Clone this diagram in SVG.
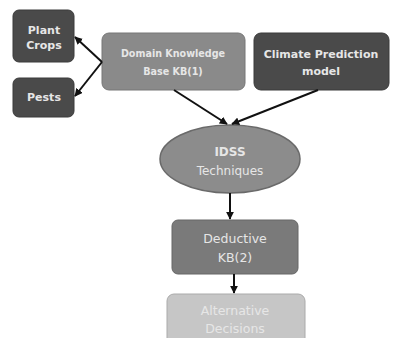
<svg xmlns="http://www.w3.org/2000/svg" width="393" height="338" viewBox="0 0 393 338">
<defs>
<style>
.t{font-family:"DejaVu Sans","Liberation Sans",sans-serif;text-anchor:middle;fill:#e6e6e6}
.b{font-weight:bold}
.c{stroke:#111;stroke-width:2;fill:none;marker-end:url(#ah)}
</style>
<marker id="ah" viewBox="0 0 10 10" refX="9" refY="5" markerWidth="4" markerHeight="4" orient="auto"><path d="M0,0 L10,5 L0,10 z" fill="#111"/></marker>
</defs>
<rect width="393" height="338" fill="#fff"/>
<g id="plant"><rect x="13" y="10" width="61" height="52" rx="6" fill="#4a4a4a" stroke="#3a3a3a"/><text class="t b" x="44" y="34" font-size="11">Plant</text><text class="t b" x="44" y="49" font-size="11">Crops</text></g>
<g id="pests"><rect x="13" y="78" width="61" height="39" rx="6" fill="#4a4a4a" stroke="#3a3a3a"/><text class="t b" x="44" y="101" font-size="11">Pests</text></g>
<g id="domain"><rect x="102" y="33" width="143" height="57" rx="7" fill="#8a8a8a" stroke="#777"/><text class="t b" x="173" y="57" font-size="9.6">Domain Knowledge</text><text class="t b" x="173" y="75" font-size="9.6">Base KB(1)</text></g>
<g id="climate"><rect x="254" y="33" width="135" height="57" rx="7" fill="#4a4a4a" stroke="#3a3a3a"/><text class="t b" x="321" y="58" font-size="11">Climate Prediction</text><text class="t b" x="321" y="75" font-size="11">model</text></g>
<g id="idss"><ellipse cx="230" cy="159" rx="70" ry="34" fill="#8c8c8c" stroke="#6a6a6a" stroke-width="1.5"/><text class="t b" x="230" y="156" font-size="12">IDSS</text><text class="t" x="230" y="175" font-size="12">Techniques</text></g>
<g id="deductive"><rect x="172" y="220" width="126" height="54" rx="6" fill="#7a7a7a" stroke="#666"/><text class="t" x="235" y="243" font-size="12.5">Deductive</text><text class="t" x="235" y="262" font-size="12.5">KB(2)</text></g>
<g id="alternative"><rect x="167" y="294" width="138" height="60" rx="7" fill="#c6c6c6" stroke="#aaa"/><text class="t" x="235" y="315" font-size="12.5" fill="#eee">Alternative</text><text class="t" x="235" y="333" font-size="12.5" fill="#eee">Decisions</text></g>
<g id="connectors">
<path class="c" d="M102,62 L75,37"/>
<path class="c" d="M102,62 L75,96"/>
<path class="c" d="M174,90 L227,124"/>
<path class="c" d="M318,90 L232,124"/>
<path class="c" d="M230,193 L230,219"/>
<path class="c" d="M234,274 L234,293"/>
</g>
</svg>
